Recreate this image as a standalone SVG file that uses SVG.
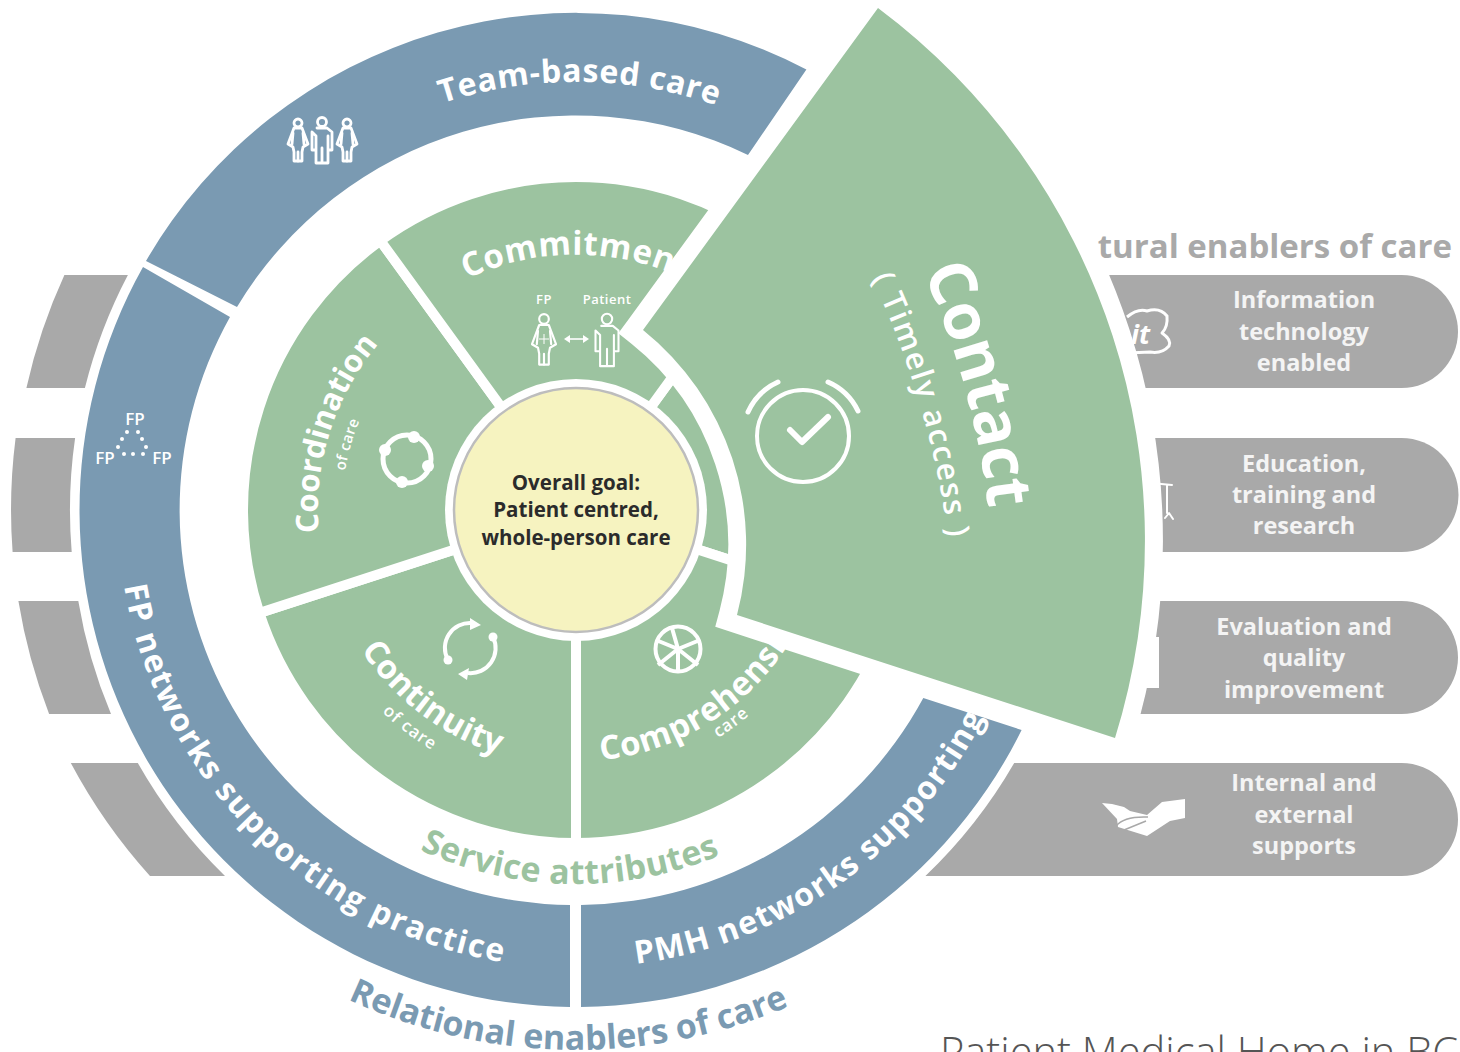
<svg xmlns="http://www.w3.org/2000/svg" width="1460" height="1052" viewBox="0 0 1460 1052">
<style>
text{font-family:"Open Sans","Liberation Sans",sans-serif;font-weight:700}
.gray{fill:#a9a9a9}.blue{fill:#7a9ab2}.sector{fill:#9cc3a0;stroke:#fff;stroke-width:10}
.w{fill:#fff}.pill{fill:#f4f4f4;font-size:23.5px;font-weight:700;text-anchor:middle}
.ring{font-size:32px;fill:#fff;font-weight:700;letter-spacing:1.2px}
.big{font-size:33px;fill:#fff;font-weight:700;letter-spacing:.6px}
.sm{font-size:17px;fill:#fff;font-weight:600;letter-spacing:1px}
.ic{fill:none;stroke:#fff;stroke-linecap:round;stroke-linejoin:round}
.goal{font-size:20.5px;fill:#2b2b2b;text-anchor:middle}
.lab{font-size:13px;fill:#fff;font-weight:600;text-anchor:middle;letter-spacing:.5px}
.fp{font-size:17px;fill:#fff;font-weight:600;text-anchor:middle}
</style>
<defs>
<path id="pTeam" d="M365.3,137.4 A428 428 0 0 1 793.2,141"/>
<path id="pCoord" d="M319,532.5 A258 258 0 0 1 459,280"/>
<path id="pCoordS" d="M345,471 A234.4 234.4 0 0 1 459,307"/>
<path id="pCommit" d="M467,279 A255 255 0 0 1 739.9,314.7"/>
<path id="pCont" d="M361,650 A256 256 0 0 0 576,766"/>
<path id="pContS" d="M382,712 A280 280 0 0 0 576,790"/>
<path id="pComp" d="M601,760 A251.5 251.5 0 0 0 827.5,510"/>
<path id="pCompS" d="M718,738 A268.6 268.6 0 0 0 844.6,510"/>
<path id="pFP" d="M124,586 A458 458 0 0 0 576,968"/>
<path id="pPMH" d="M636,964 A458 458 0 0 0 1034,510"/>
<path id="pRel" d="M348,999.4 A540 540 0 0 0 1116,510"/>
<path id="pServ" d="M420,850 A374 374 0 0 0 950,510"/>
<path id="pContact" d="M923,272 A800 800 0 0 1 991,535"/>
<path id="pTimely" d="M872,278 A900 900 0 0 1 951,560"/>
<g id="woman" class="ic"><circle cx="0" cy="0" r="4"/><path d="M-4,5 L4,5 L10,21 L5,24 L4,29 V38 H-4 V29 L-5,24 L-10,21 Z"/><path d="M0,29 V38 M-5,10 L-6,21 M5,10 L6,21"/></g>
<g id="man" class="ic"><circle cx="0" cy="0" r="4.5"/><path d="M-5,6 H5 L10,10 V28 H6 V14 M-6,14 V28 H-10 V10 Z M-6,14 V41 H6 V14 M0,26 V41"/></g>
</defs>

<g id="left-gray-1"><path class="gray" d="M64.4,275 H127.9 A506 506 0 0 0 84.9,388 H26.4 A563 563 0 0 1 64.4,275 Z"/></g>
<g id="left-gray-2"><path class="gray" d="M15.6,438 H75.1 A506 506 0 0 0 71.7,552 H12.6 A565 565 0 0 1 15.6,438 Z"/></g>
<g id="left-gray-3"><path class="gray" d="M18.4,601 H78.3 A506 506 0 0 0 111,714 H49.1 A565 565 0 0 1 18.4,601 Z"/></g>
<g id="left-gray-4"><path class="gray" d="M70.8,763 H137.8 A506 506 0 0 0 225,876 H150 A565 565 0 0 1 70.8,763 Z"/></g>

<text x="1452" y="258" text-anchor="end" style="font-size:33px;fill:#a9a9a9;font-weight:700">tural enablers of care</text>

<g id="enabler-it">
<path class="gray" d="M1024.1,275 H1401.5 A56.5 56.5 0 0 1 1401.5,388 H1067.1 A506 506 0 0 1 1024.1,275 Z"/>
<path d="M1127,317 Q1138,308 1147,311 Q1160,307 1167,316 Q1168,327 1162,333 Q1172,340 1169,346 Q1162,354 1150,352 L1128,353" fill="none" stroke="#fff" stroke-width="3" stroke-linejoin="round"/>
<text x="1131" y="344" style="font-size:27px;font-style:italic;fill:#fff">it</text>
<text class="pill" x="1304" y="308">Information</text><text class="pill" x="1304" y="340">technology</text><text class="pill" x="1304" y="371">enabled</text>
</g>
<g id="enabler-education">
<path class="gray" d="M1076.9,438 H1401.5 A57 57 0 0 1 1401.5,552 H1080.3 A506 506 0 0 1 1076.9,438 Z"/>
<path class="ic" style="stroke-width:2" d="M1140,482 L1172,485 M1167,486 V513 M1165,518 L1169,513 L1173,519"/>
<text class="pill" x="1304" y="472">Education,</text><text class="pill" x="1304" y="503">training and</text><text class="pill" x="1304" y="534">research</text>
</g>
<g id="enabler-evaluation">
<path class="gray" d="M1073.7,601 H1401.5 A56.5 56.5 0 0 1 1401.5,714 H1039.1 A506 506 0 0 0 1073.7,601 Z"/>
<rect class="w" x="1140" y="637" width="19" height="51"/>
<text class="pill" x="1304" y="635">Evaluation and</text><text class="pill" x="1304" y="666">quality</text><text class="pill" x="1304" y="698">improvement</text>
</g>
<g id="enabler-supports">
<path class="gray" d="M1014.2,763 H1401.5 A56.5 56.5 0 0 1 1401.5,876 H925.4 A506 506 0 0 0 1014.2,763 Z"/>
<path class="w" d="M1102,803 L1112,804 L1124,807 L1130,811 L1147,815 L1162,802 L1185,799 V818 L1170,821 L1147,836 L1118,827 L1117,819 Z"/>
<path d="M1116,826 Q1124,816 1148,817 M1124,830 L1146,821" fill="none" stroke="#a9a9a9" stroke-width="1.5"/>
<text class="pill" x="1304" y="791">Internal and</text><text class="pill" x="1304" y="823">external</text><text class="pill" x="1304" y="854">supports</text>
</g>

<g id="team-based-care">
<path class="blue" d="M146,261 A497 497 0 0 1 806.4,69.4 L748,155 A395 395 0 0 0 237,307 Z"/>
<text class="ring" style="letter-spacing:.6px"><textPath href="#pTeam" startOffset="50%" text-anchor="middle">Team-based care</textPath></text>
<use href="#woman" style="stroke-width:2.8" transform="translate(298,123)"/><use href="#man" style="stroke-width:2.8" transform="translate(322,122)"/><use href="#woman" style="stroke-width:2.8" transform="translate(347,123)"/>
</g>
<g id="fp-networks">
<path class="blue" d="M143,267 A497 497 0 0 0 570,1007 V905 A395 395 0 0 1 230,317 Z"/>
<text class="ring" style="letter-spacing:1.7px"><textPath href="#pFP">FP networks supporting practice</textPath></text>
<text class="fp" x="135" y="425">FP</text><text class="fp" x="105" y="464">FP</text><text class="fp" x="162" y="464">FP</text>
<g class="w"><circle cx="127" cy="432" r="2"/><circle cx="138" cy="432" r="2"/><circle cx="122" cy="439" r="2"/><circle cx="142" cy="439" r="2"/><circle cx="118" cy="447" r="2"/><circle cx="146" cy="447" r="2"/><circle cx="124" cy="454" r="2"/><circle cx="133" cy="454" r="2"/><circle cx="143" cy="454" r="2"/></g>
</g>
<g id="pmh-networks">
<path class="blue" d="M581,1007 A497 497 0 0 0 1021.6,730 L923.3,698 A395 395 0 0 1 581,905 Z"/>
<text class="ring"><textPath href="#pPMH">PMH networks supporting</textPath></text>
</g>
<text style="font-size:34px;fill:#7a9ab2;font-weight:700"><textPath href="#pRel">Relational enablers of care</textPath></text>
<text style="font-size:34px;fill:#9cc3a0;font-weight:700;letter-spacing:.4px"><textPath href="#pServ">Service attributes</textPath></text>

<g id="sector-contact-base"><path class="sector" d="M576,510 L771.7,240.6 A333 333 0 0 1 892.7,612.9 Z"/></g>
<g id="sector-comprehensive">
<path class="sector" d="M576,510 L892.7,612.9 A333 333 0 0 1 576,843 Z"/>
<text class="big"><textPath href="#pComp">Comprehensi</textPath></text>
<text class="sm"><textPath href="#pCompS">care</textPath></text>
<circle cx="678" cy="649" r="22.5" fill="none" stroke="#fff" stroke-width="4"/>
<path d="M678,649 V671 M678,649 L656,640 M678,649 L700,640 M672,628 L678,649 M678,649 L658,665 M678,649 L698,665" stroke="#fff" stroke-width="4"/>
</g>
<g id="sector-continuity">
<path class="sector" d="M576,510 L576,843 A333 333 0 0 1 259.3,612.9 Z"/>
<text class="big" style="letter-spacing:.2px"><textPath href="#pCont">Continuity</textPath></text>
<text class="sm"><textPath href="#pContS">of care</textPath></text>
<path d="M448,660 A25 25 0 0 1 472,623 M493,637 A25 25 0 0 1 468,673" fill="none" stroke="#fff" stroke-width="4"/>
<path class="w" d="M470,618 L481,625 L470,630 Z M469,668 L458,674 L467,680 Z"/>
<circle class="w" cx="448" cy="660" r="4.5"/><circle class="w" cx="493" cy="637" r="4.5"/>
</g>
<g id="sector-coordination">
<path class="sector" d="M576,510 L259.3,612.9 A333 333 0 0 1 380.3,240.6 Z"/>
<text class="big" style="font-size:31px;letter-spacing:0"><textPath href="#pCoord">Coordination</textPath></text>
<text class="sm" style="font-size:15px;letter-spacing:.4px"><textPath href="#pCoordS">of care</textPath></text>
<circle cx="407" cy="459" r="24" fill="none" stroke="#fff" stroke-width="5"/>
<circle class="w" cx="414" cy="437" r="6"/><circle class="w" cx="385" cy="450" r="6"/><circle class="w" cx="428" cy="466" r="6"/><circle class="w" cx="402" cy="482" r="6"/>
</g>
<g id="sector-commitment">
<path class="sector" d="M576,510 L380.3,240.6 A333 333 0 0 1 771.7,240.6 Z"/>
<text class="big"><textPath href="#pCommit">Commitment</textPath></text>
<text class="lab" x="544" y="304">FP</text><text class="lab" x="607" y="304">Patient</text>
<use href="#woman" style="stroke-width:1.8" transform="translate(544,319) scale(1.2)"/><use href="#man" style="stroke-width:1.8" transform="translate(607,319) scale(1.15)"/>
<path d="M544,334 V344 M539,339 H549" stroke="#fff" stroke-width="1"/>
</g>
<g id="connectors">
<path d="M568,339 H585" stroke="#fff" stroke-width="1.6"/>
<path class="w" d="M564,339 L570,335 V343 Z M589,339 L583,335 V343 Z"/>
</g>

<g id="overall-goal">
<circle class="w" cx="576" cy="510" r="131"/>
<circle cx="576" cy="510" r="122" fill="#f6f3c0" stroke="#bdbdbd" stroke-width="2.5"/>
<text class="goal" x="576" y="490">Overall goal:</text>
<text class="goal" x="576" y="517">Patient centred,</text>
<text class="goal" x="576" y="545">whole-person care</text>
</g>

<g id="contact">
<path fill="#9cc3a0" stroke="#fff" stroke-width="36" paint-order="stroke" d="M643,330 L878,8 A665 665 0 0 1 1115,738 L737,615 A275 275 0 0 0 643,330 Z"/>
<text style="font-size:64px;fill:#fff;letter-spacing:-.5px"><textPath href="#pContact">Contact</textPath></text>
<text style="font-size:31px;fill:#fff;font-weight:600;letter-spacing:2px"><textPath href="#pTimely">( Timely access )</textPath></text>
<circle cx="803" cy="436" r="46" fill="none" stroke="#fff" stroke-width="4"/>
<path d="M748,412 A60 60 0 0 1 778,382 M828,382 A60 60 0 0 1 858,411" fill="none" stroke="#fff" stroke-width="5" stroke-linecap="round"/>
<path d="M790,430 L802,442 L828,417" fill="none" stroke="#fff" stroke-width="6" stroke-linecap="round" stroke-linejoin="round"/>
</g>

<text x="940" y="1067" style="font-size:41.6px;fill:#555;font-weight:300">Patient Medical Home in BC</text>
</svg>
